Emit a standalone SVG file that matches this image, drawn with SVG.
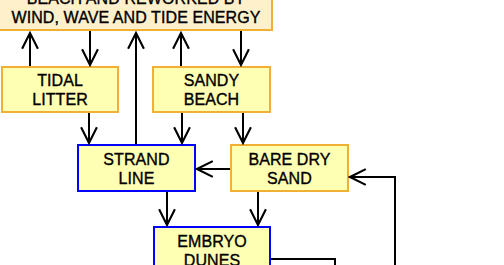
<svg xmlns="http://www.w3.org/2000/svg" width="504" height="265" viewBox="0 0 504 265">
<style>
.t{font-family:"Liberation Sans",Arial,sans-serif;font-size:16px;text-anchor:middle;fill:#000;stroke:#000;stroke-width:0.35px;letter-spacing:0.08px}
.n{fill:#FFFFB3;stroke-width:2}
.o{stroke:#F0B035}
.b{stroke:#0000FF}
.c{fill:none;stroke:#000;stroke-width:2}
</style>
<defs>
<marker id="a" markerUnits="userSpaceOnUse" markerWidth="20" markerHeight="20" viewBox="-17 -9 19 18" refX="0" refY="0" orient="auto">
<path d="M-15,-7.5 L0,0 L-15,7.5" fill="none" stroke="#000" stroke-width="2"/>
</marker>
</defs>
<g id="top">
<rect x="-2" y="-16" width="274" height="46" fill="#FFF0CC" stroke="#F0B035" stroke-width="2"/>
<text class="t" x="136" y="3.5">BEACH AND REWORKED BY</text>
<text class="t" x="136" y="22.5">WIND, WAVE AND TIDE ENERGY</text>
</g>
<g id="tidal">
<rect class="n o" x="2" y="67" width="116" height="45"/>
<text class="t" x="60" y="86">TIDAL</text>
<text class="t" x="60" y="105">LITTER</text>
</g>
<g id="sandy">
<rect class="n o" x="153" y="67" width="117" height="45"/>
<text class="t" x="211.5" y="86">SANDY</text>
<text class="t" x="211.5" y="105">BEACH</text>
</g>
<g id="strand">
<rect class="n b" x="78" y="145" width="117" height="46"/>
<text class="t" x="136.5" y="164.5">STRAND</text>
<text class="t" x="136.5" y="183.5">LINE</text>
</g>
<g id="bare">
<rect class="n o" x="231" y="145" width="117" height="46"/>
<text class="t" x="289.5" y="164.5">BARE DRY</text>
<text class="t" x="289.5" y="183.5">SAND</text>
</g>
<g id="embryo">
<rect class="n b" x="154" y="227" width="116" height="46"/>
<text class="t" x="212" y="246.5">EMBRYO</text>
<text class="t" x="212" y="265.5">DUNES</text>
</g>
<g id="connectors">
<line class="c" x1="30" y1="66" x2="30" y2="33" marker-end="url(#a)"/>
<line class="c" x1="90" y1="31" x2="90" y2="65" marker-end="url(#a)"/>
<line class="c" x1="136" y1="144" x2="136" y2="33" marker-end="url(#a)"/>
<line class="c" x1="181" y1="66" x2="181" y2="33" marker-end="url(#a)"/>
<line class="c" x1="241" y1="31" x2="241" y2="65" marker-end="url(#a)"/>
<line class="c" x1="89" y1="113" x2="89" y2="143" marker-end="url(#a)"/>
<line class="c" x1="182" y1="113" x2="182" y2="143" marker-end="url(#a)"/>
<line class="c" x1="243" y1="113" x2="243" y2="143" marker-end="url(#a)"/>
<line class="c" x1="230" y1="169" x2="197" y2="169" marker-end="url(#a)"/>
<line class="c" x1="167" y1="192" x2="167" y2="225" marker-end="url(#a)"/>
<line class="c" x1="258" y1="192" x2="258" y2="225" marker-end="url(#a)"/>
<polyline class="c" points="395,266 395,177 350,177" marker-end="url(#a)"/>
<polyline class="c" points="271,259 335,259 335,266"/>
</g>
</svg>
